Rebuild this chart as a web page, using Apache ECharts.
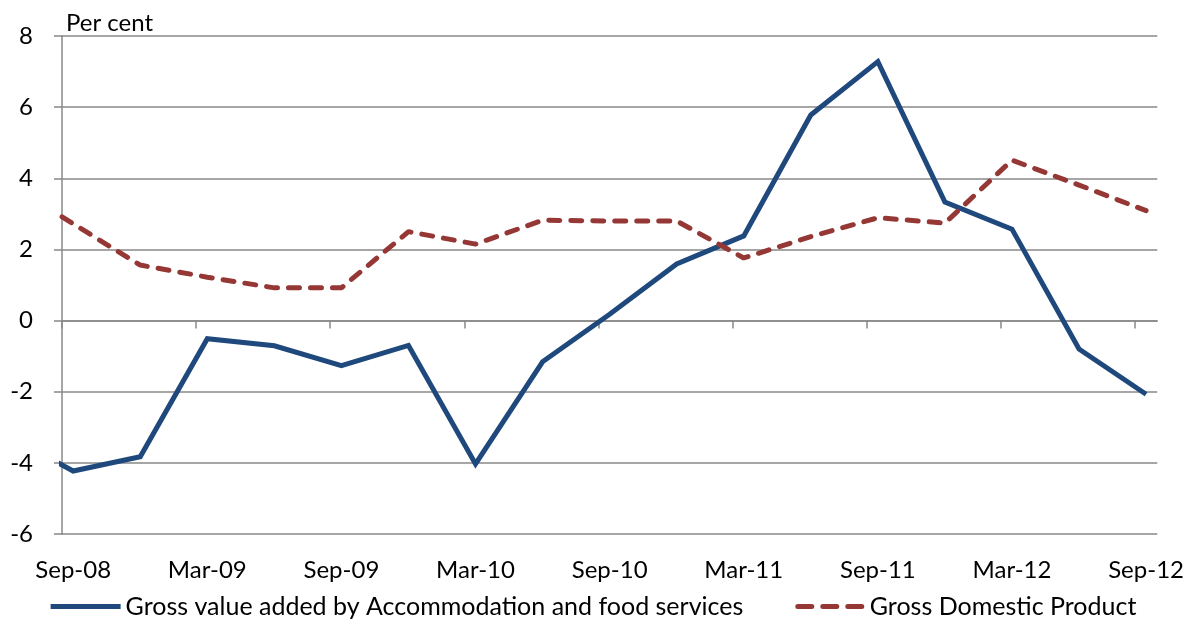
<!DOCTYPE html>
<html>
<head>
<meta charset="utf-8">
<title>GVA Accommodation and food services vs GDP</title>
<script src="https://cdn.jsdelivr.net/npm/echarts@6/dist/echarts.min.js"></script>
<style>
  html, body { margin: 0; padding: 0; background: #fff; }
  #chart { width: 1187px; height: 620px; }
</style>
</head>
<body>
<div id="chart"></div>
<script>
// quarterly observations, Jun-08 sits just left of the axis start and gets clipped
const quarters = ['Jun-08', 'Sep-08', 'Dec-08', 'Mar-09', 'Jun-09', 'Sep-09', 'Dec-09', 'Mar-10', 'Jun-10',
  'Sep-10', 'Dec-10', 'Mar-11', 'Jun-11', 'Sep-11', 'Dec-11', 'Mar-12', 'Jun-12', 'Sep-12']
const gvaAccomFood = [-3.2, -4.23, -3.83, -0.51, -0.71, -1.27, -0.70, -4.03, -1.16,
  0.18, 1.59, 2.38, 5.78, 7.28, 3.33, 2.57, -0.80, -2.07]
const gdp = [3.9, 2.72, 1.56, 1.22, 0.92, 0.92, 2.50, 2.15, 2.82,
  2.80, 2.80, 1.76, 2.36, 2.89, 2.74, 4.51, 3.81, 3.09]
const tickLabels = ['Sep-08', 'Mar-09', 'Sep-09', 'Mar-10', 'Sep-10', 'Mar-11', 'Sep-11', 'Mar-12', 'Sep-12']

const seriesNames = ['Gross value added by Accommodation and food services', 'Gross Domestic Product']

// month axis: Sep-08 occupies slot [0,1], so quarter q is centred at (q-1)*3 + 0.5
const monthPos = q => (q - 1) * 3 + 0.5
const toPoints = arr => arr.map((v, i) => [monthPos(i), v])

const FONT = 'Lato'
const FS = 24
const GRID_GREY = '#888888'
const BLUE = '#1F497D'
const RED = '#953735'

// legend swatches: solid bar and three dashes
const solidIcon = 'path://M0,0H70V5H0Z'
const dashIcon = 'path://M2,0H16A2.5,2.5 0 0 1 16,5H2A2.5,2.5 0 0 1 2,0Z M27,0H41A2.5,2.5 0 0 1 41,5H27A2.5,2.5 0 0 1 27,0Z M52,0H66A2.5,2.5 0 0 1 66,5H52A2.5,2.5 0 0 1 52,0Z'

const chart = echarts.init(document.getElementById('chart'))

const option = {
  animation: false,
  textStyle: { fontFamily: FONT },
  title: {
    text: 'Per cent',
    left: 61,
    top: 6,
    textStyle: { fontSize: FS, fontWeight: 'normal', color: '#000', fontFamily: FONT }
  },
  grid: { left: 62, right: 29, top: 36, bottom: 86 },
  legend: {
    top: 589,
    left: 'center',
    itemWidth: 70,
    itemHeight: 5,
    itemGap: 52,
    textStyle: { fontSize: 25, color: '#000', fontFamily: FONT },
    data: [
      { name: seriesNames[0], icon: solidIcon },
      { name: seriesNames[1], icon: dashIcon }
    ]
  },
  xAxis: [
    {
      // axis line + ticks sitting on zero
      type: 'value',
      min: 0,
      max: 49,
      axisLine: { onZero: true, lineStyle: { color: GRID_GREY, width: 1.5 } },
      axisTick: {
        show: true,
        length: 8,
        customValues: [0, 6, 12, 18, 24, 30, 36, 42, 48],
        lineStyle: { color: GRID_GREY, width: 1.5 }
      },
      axisLabel: { show: false },
      splitLine: { show: false }
    },
    {
      // labels only, at the bottom of the plot
      type: 'value',
      position: 'bottom',
      min: 0,
      max: 49,
      axisLine: { show: false, onZero: false },
      axisTick: { show: false },
      splitLine: { show: false },
      axisLabel: {
        show: true,
        margin: 24,
        fontSize: FS,
        color: '#000',
        fontFamily: FONT,
        customValues: tickLabels.map((_, i) => i * 6 + 0.5),
        formatter: v => tickLabels[Math.round((v - 0.5) / 6)] || ''
      }
    }
  ],
  yAxis: {
    type: 'value',
    min: -6,
    max: 8,
    interval: 2,
    axisLine: { show: true, lineStyle: { color: GRID_GREY, width: 1.5 } },
    axisTick: { show: true, length: 8, lineStyle: { color: GRID_GREY, width: 1.5 } },
    axisLabel: { fontSize: FS, color: '#000', margin: 29, fontFamily: FONT },
    splitLine: { show: true, lineStyle: { color: GRID_GREY, width: 1.5 } }
  },
  series: [
    {
      name: seriesNames[0],
      type: 'line',
      xAxisIndex: 0,
      symbol: 'none',
      clip: true,
      data: toPoints(gvaAccomFood),
      lineStyle: { color: BLUE, width: 5, join: 'miter' },
      itemStyle: { color: BLUE }
    },
    {
      name: seriesNames[1],
      type: 'line',
      xAxisIndex: 0,
      symbol: 'none',
      clip: true,
      data: toPoints(gdp),
      lineStyle: { color: RED, width: 5, type: [11, 11], cap: 'round' },
      itemStyle: { color: RED }
    }
  ]
}

chart.setOption(option)
</script>
</body>
</html>
